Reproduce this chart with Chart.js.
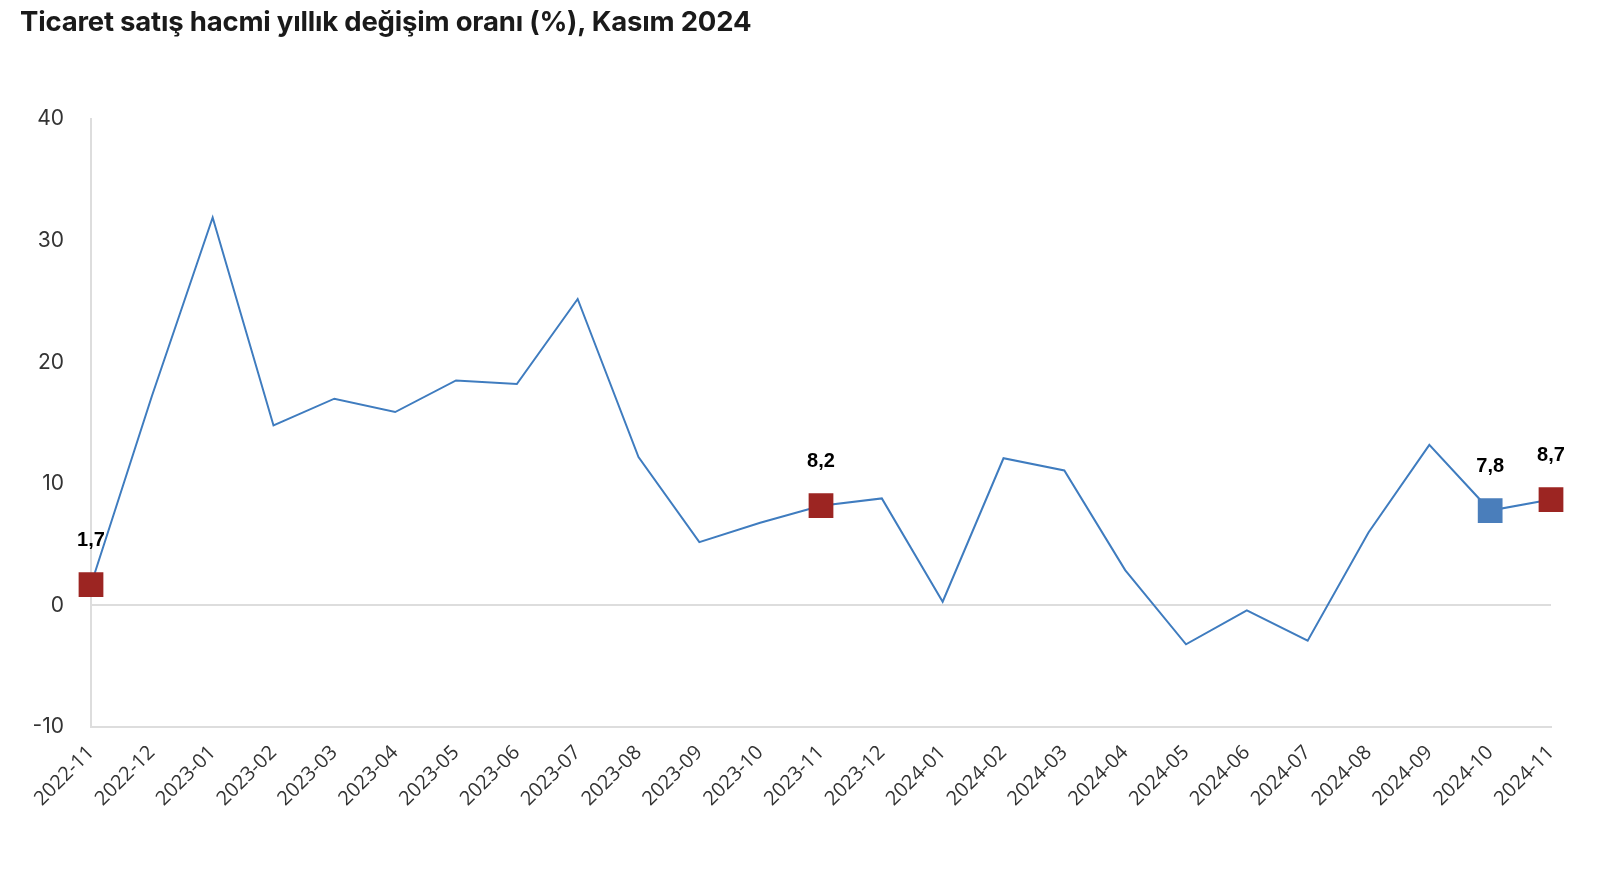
<!DOCTYPE html>
<html lang="tr">
<head>
<meta charset="utf-8">
<title>Ticaret satış hacmi</title>
<script src="https://cdn.jsdelivr.net/npm/chart.js@4"></script>
<style>
    body { margin: 0; background: #fff; }
    #wrap { position: relative; width: 1606px; height: 880px; }
    #title {
        position: absolute; left: 20px; top: 4px; margin: 0;
        font: 700 27.5px Inter, sans-serif; color: #1a1a1a; letter-spacing: -0.2px;
    }
</style>
</head>
<body>
<div id="wrap">
    <h1 id="title">Ticaret satış hacmi yıllık değişim oranı (%), Kasım 2024</h1>
    <canvas id="chart" width="1606" height="880"></canvas>
</div>
<script>
// aylar
const months = [
    '2022-11', '2022-12', '2023-01', '2023-02', '2023-03', '2023-04', '2023-05',
    '2023-06', '2023-07', '2023-08', '2023-09', '2023-10', '2023-11', '2023-12',
    '2024-01', '2024-02', '2024-03', '2024-04', '2024-05', '2024-06', '2024-07',
    '2024-08', '2024-09', '2024-10', '2024-11'
];
// yıllık değişim (%)
const changeRate = [
    1.7, 17.2, 31.9, 14.8, 17.0, 15.9, 18.5,
    18.2, 25.2, 12.2, 5.2, 6.8, 8.2, 8.8,
    0.3, 12.1, 11.1, 2.9, -3.2, -0.4, -2.9,
    6.0, 13.2, 7.8, 8.7
];
const yTicks = [-10, 0, 10, 20, 30, 40];
// işaretlenen aylar
const redMonths = ['2022-11', '2023-11', '2024-11'];
const blueMonths = ['2024-10'];

const RED = '#9c2522';
const BLUE = '#4a7ebb';

const pointColors = months.map(m => redMonths.includes(m) ? RED : (blueMonths.includes(m) ? BLUE : 'rgba(0,0,0,0)'));
const pointSizes = months.map(m => (redMonths.includes(m) || blueMonths.includes(m)) ? 17.5 : 0);

// değer etiketleri (işaretli noktaların üstünde)
const valueLabels = {
    id: 'valueLabels',
    afterDatasetsDraw(chart) {
        const ctx = chart.ctx;
        const meta = chart.getDatasetMeta(0);
        ctx.save();
        ctx.font = '700 20px "Liberation Sans", Arial, sans-serif';
        ctx.fillStyle = '#000';
        ctx.textAlign = 'center';
        ctx.textBaseline = 'middle';
        months.forEach((m, i) => {
            if (!pointSizes[i]) return;
            const pt = meta.data[i];
            ctx.fillText(changeRate[i].toFixed(1).replace('.', ','), pt.x, pt.y - 44);
        });
        ctx.restore();
    }
};

new Chart(document.getElementById('chart'), {
    type: 'line',
    data: {
        labels: months,
        datasets: [{
            data: changeRate,
            borderColor: '#3f7cbf',
            borderWidth: 2,
            tension: 0,
            pointStyle: 'rect',
            pointRadius: pointSizes,
            pointHoverRadius: pointSizes,
            pointBackgroundColor: pointColors,
            pointBorderColor: pointColors,
            pointBorderWidth: 0
        }]
    },
    options: {
        responsive: false,
        animation: false,
        layout: { padding: { top: 119, right: 55, left: 0, bottom: 0 } },
        plugins: {
            legend: { display: false },
            tooltip: { enabled: false }
        },
        scales: {
            x: {
                offset: false,
                grid: { display: false },
                border: { display: true, color: '#dddddd', width: 2 },
                ticks: {
                    autoSkip: false,
                    maxRotation: 45,
                    minRotation: 45,
                    color: '#333',
                    font: { family: '"Open Sans", sans-serif', size: 20 },
                    padding: 6
                },
                afterFit(scale) { scale.height = 153; }
            },
            y: {
                min: -10,
                max: 40,
                afterBuildTicks(scale) { scale.ticks = yTicks.map(v => ({ value: v })); },
                grid: {
                    drawTicks: false,
                    color: ctx => ctx.tick && ctx.tick.value === 0 ? '#dddddd' : 'rgba(0,0,0,0)',
                    lineWidth: 2
                },
                border: { display: true, color: '#dddddd', width: 2 },
                ticks: {
                    color: '#333',
                    font: { family: 'Inter, sans-serif', size: 21 },
                    padding: 27
                },
                afterFit(scale) { scale.width = 91; }
            }
        }
    },
    plugins: [valueLabels]
});
</script>
</body>
</html>
